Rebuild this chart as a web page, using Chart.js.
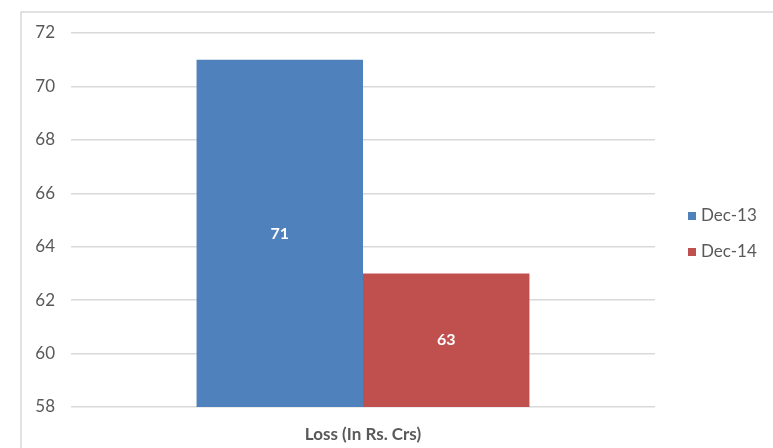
<!DOCTYPE html>
<html>
<head>
<meta charset="utf-8">
<script src="https://cdn.jsdelivr.net/npm/chart.js@4/dist/chart.umd.min.js"></script>
<style>
  html, body { margin: 0; padding: 0; background: #fff; }
  #wrap { width: 773px; height: 448px; }
</style>
</head>
<body>
<div id="wrap"><canvas id="myChart" width="773" height="448"></canvas></div>
<script>
// chart data
const categories = ["Loss (In Rs. Crs)"];
const seriesNames = ["Dec-13", "Dec-14"];
const dec13 = [71];
const dec14 = [63];
const colors = ["#4f81bd", "#c0504d"];
const yMin = 58, yMax = 72, yStep = 2;

const FONT = "Lato, 'Open Sans', sans-serif";
const TXT = "#595959";

// border round the chart + legend on the right
const framePlugin = {
  id: "frame",
  beforeDraw(chart) {
    const c = chart.ctx;
    c.save();
    c.fillStyle = "#fff";
    c.fillRect(0, 0, chart.width, chart.height);
    c.strokeStyle = "#d9d9d9";
    c.lineWidth = 1.5;
    c.beginPath();
    c.moveTo(21, chart.height);
    c.lineTo(21, 12);
    c.lineTo(chart.width, 12);
    c.stroke();
    c.restore();
  },
  afterDatasetsDraw(chart) {
    const c = chart.ctx;
    c.save();
    c.font = "17px " + FONT;
    c.textBaseline = "middle";
    c.textAlign = "left";
    chart.data.datasets.forEach((ds, i) => {
      const y = 216 + i * 36;
      c.fillStyle = ds.backgroundColor;
      c.fillRect(688, y - 4, 8, 8);
      c.fillStyle = TXT;
      c.fillText(ds.label, 701, y);
    });
    // value labels inside bars
    const yScale = chart.scales.y;
    const base = yScale.getPixelForValue(yMin);
    c.font = "bold 16px " + FONT;
    c.fillStyle = "#ffffff";
    c.textAlign = "center";
    chart.data.datasets.forEach((ds, i) => {
      chart.getDatasetMeta(i).data.forEach((bar, j) => {
        const top = yScale.getPixelForValue(ds.data[j]);
        c.fillText(String(ds.data[j]), bar.x, (top + base) / 2);
      });
    });
    c.restore();
  }
};

const ctx = document.getElementById("myChart").getContext("2d");
const myChart = new Chart(ctx, {
  type: "bar",
  data: {
    labels: categories,
    datasets: [
      { label: seriesNames[0], data: dec13, backgroundColor: colors[0], borderWidth: 0 },
      { label: seriesNames[1], data: dec14, backgroundColor: colors[1], borderWidth: 0 }
    ]
  },
  options: {
    responsive: false,
    animation: false,
    layout: { padding: { left: 0, right: 118, top: 33, bottom: 0 } },
    plugins: {
      legend: { display: false },
      tooltip: { enabled: false }
    },
    datasets: { bar: { categoryPercentage: 0.57, barPercentage: 1.0 } },
    scales: {
      x: {
        grid: { display: false },
        border: { display: false },
        ticks: { color: TXT, font: { family: FONT, size: 17, weight: "bold" }, padding: 9 },
        afterFit(axis) { axis.height = 41; }
      },
      y: {
        min: yMin,
        max: yMax,
        ticks: { stepSize: yStep, color: TXT, font: { family: FONT, size: 17 }, padding: 16 },
        grid: { color: "#d9d9d9", lineWidth: 1.5, drawTicks: false },
        border: { display: false },
        afterFit(axis) { axis.width = 71; }
      }
    }
  },
  plugins: [framePlugin]
});
</script>
</body>
</html>
